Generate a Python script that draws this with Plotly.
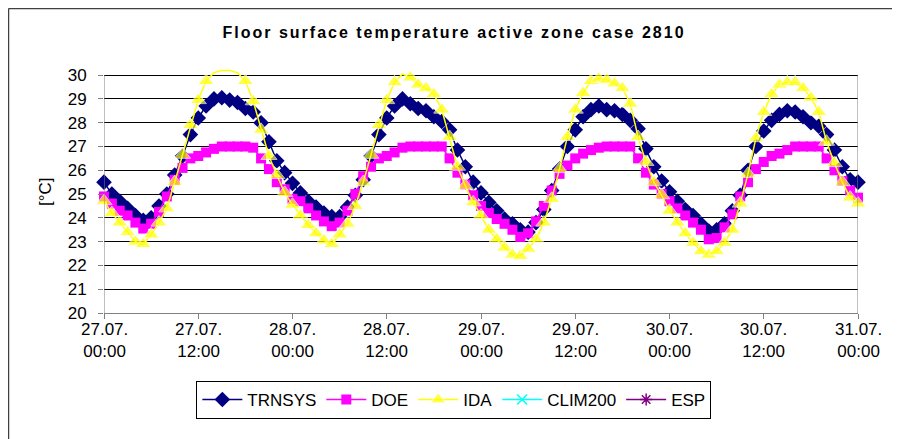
import plotly.graph_objects as go

# ---------------- data (hourly values, 27.07. 00:00 -> 31.07. 00:00) ----------------
hours = list(range(97))

tick_hours = [0, 12, 24, 36, 48, 60, 72, 84, 96]
tick_dates = ["27.07.", "27.07.", "28.07.", "28.07.", "29.07.", "29.07.", "30.07.", "30.07.", "31.07."]
tick_times = ["00:00", "12:00", "00:00", "12:00", "00:00", "12:00", "00:00", "12:00", "00:00"]

trnsys = [25.5, 25.0, 24.7, 24.4, 24.1, 23.9, 24.0, 24.5, 25.0, 25.8, 26.6, 27.5, 28.2,
          28.7, 29.0, 29.05, 28.95, 28.85, 28.6, 28.45, 28.0, 27.2, 26.4, 25.9,
          25.45, 25.05, 24.7, 24.45, 24.2, 24.05, 24.05, 24.45, 24.95, 25.6, 26.6, 27.5,
          28.2, 28.7, 29.0, 28.8, 28.6, 28.5, 28.25, 28.05, 27.7, 26.85, 26.15, 25.5,
          25.05, 24.65, 24.3, 23.95, 23.75, 23.5, 23.4, 23.8, 24.35, 25.15, 26.05, 27.0,
          27.7, 28.25, 28.55, 28.7, 28.55, 28.5, 28.35, 28.1, 27.75, 26.9, 26.15, 25.55,
          25.1, 24.7, 24.35, 24.1, 23.75, 23.45, 23.5, 23.75, 24.3, 24.95, 26.0, 27.0,
          27.65, 28.1, 28.35, 28.5, 28.45, 28.25, 28.0, 27.85, 27.5, 26.85, 26.15, 25.6,
          25.5]

doe = [24.9, 24.6, 24.3, 24.1, 23.8, 23.55, 23.75, 24.25, 24.9, 25.6, 26.1, 26.5, 26.6,
       26.75, 26.9, 27.0, 27.0, 27.0, 27.0, 26.95, 26.5, 26.05, 25.5, 25.2,
       24.8, 24.7, 24.4, 24.1, 23.85, 23.65, 23.8, 24.3, 25.0, 25.75, 26.15, 26.5,
       26.6, 26.75, 26.95, 27.0, 27.0, 27.0, 27.0, 27.0, 26.5, 25.9, 25.4, 24.95,
       24.5, 24.2, 23.95, 23.75, 23.5, 23.2, 23.35, 23.85, 24.5, 25.15, 25.85, 26.2,
       26.5, 26.7, 26.85, 26.95, 27.0, 27.0, 27.0, 27.0, 26.5, 25.9, 25.4, 25.0,
       24.7, 24.4, 24.1, 23.8, 23.5, 23.1, 23.15, 23.6, 24.15, 24.9, 25.5, 26.05,
       26.35, 26.6, 26.7, 26.85, 27.0, 27.0, 27.0, 27.0, 26.5, 26.0, 25.55, 25.15,
       24.85]

ida = [24.7, 24.2, 23.8, 23.4, 23.0, 22.9, 23.3, 23.8, 24.4, 25.5, 26.65, 27.9, 28.95,
       29.75, 30.1, 30.2, 30.2, 30.1, 29.75, 28.9, 27.7, 26.6, 25.8, 25.05,
       24.55, 24.1, 23.7, 23.35, 23.05, 22.9, 23.3, 23.75, 24.5, 25.5, 26.65, 27.9,
       28.95, 29.7, 30.05, 29.9, 29.6, 29.45, 29.2, 28.55, 27.4, 26.15, 25.35, 24.65,
       24.1, 23.5, 23.1, 22.75, 22.45, 22.4, 22.7, 23.1, 23.8, 24.8, 26.05, 27.4,
       28.55, 29.25, 29.75, 29.85, 29.8, 29.65, 29.45, 28.8, 27.4, 26.35, 25.5, 24.95,
       24.3, 23.8, 23.35, 22.95, 22.6, 22.45, 22.6, 22.95, 23.5, 24.6, 25.85, 27.35,
       28.45, 29.2, 29.6, 29.7, 29.7, 29.45, 29.05, 28.45, 27.2, 26.3, 25.5, 24.85,
       24.6]

clim200 = [None]   # no data visible, legend entry only
esp = [None]       # no data visible, legend entry only

y_ticks = list(range(20, 31))
y_max_axis = 30

# ---------------- figure ----------------
FONT = "Liberation Sans, Arial, sans-serif"
fig = go.Figure()

fig.add_trace(go.Scatter(x=hours, y=trnsys, name="TRNSYS", mode="lines+markers",
                         line=dict(color="#000080", width=1.5),
                         marker=dict(symbol="diamond", size=12, color="#000080"),
                         cliponaxis=False))
fig.add_trace(go.Scatter(x=hours, y=doe, name="DOE", mode="lines+markers",
                         line=dict(color="#FF00FF", width=1.5),
                         marker=dict(symbol="square", size=10, color="#FF00FF"),
                         cliponaxis=False))
fig.add_trace(go.Scatter(x=hours, y=ida, name="IDA", mode="lines+markers",
                         line=dict(color="#FFFF00", width=1.5),
                         marker=dict(symbol="triangle-up", color="#FFFF00",
                                     size=[0 if v > y_max_axis else 14 for v in ida]),
                         cliponaxis=False))
fig.add_trace(go.Scatter(x=clim200, y=clim200, name="CLIM200", mode="lines+markers",
                         line=dict(color="#00FFFF", width=1.5),
                         marker=dict(symbol="x-thin-open", size=10, color="#00FFFF",
                                     line=dict(width=1.5, color="#00FFFF"))))
fig.add_trace(go.Scatter(x=esp, y=esp, name="ESP", mode="lines+markers",
                         line=dict(color="#800080", width=1.5),
                         marker=dict(symbol="asterisk-open", size=10, color="#800080",
                                     line=dict(width=1.5, color="#800080"))))

TITLE = "Floor surface temperature active zone case 2810"
fig.update_layout(
    width=900, height=439,
    margin=dict(l=96, r=50, t=60, b=134),
    paper_bgcolor="white", plot_bgcolor="white",
    font=dict(family=FONT, size=17, color="black"),
    title=dict(text='<b><span style="letter-spacing:2px">' + TITLE + '</span></b>',
               x=446 / 900, xanchor="center", y=1 - 24 / 439, yanchor="middle",
               font=dict(size=16, family=FONT, color="black")),
    showlegend=True,
    legend=dict(orientation="h", x=0.464, xanchor="center", y=-0.2776, yanchor="top",
                bordercolor="black", borderwidth=1, bgcolor="white",
                font=dict(size=17, family=FONT), itemwidth=40, traceorder="normal"),
)

fig.update_xaxes(range=[0, 96], tickmode="array", tickvals=tick_hours, showticklabels=False,
                 showgrid=False, zeroline=False, showline=True, linecolor="#808080",
                 linewidth=1, ticks="outside", ticklen=5, tickcolor="#808080")
fig.update_yaxes(range=[20, 30.3], tickmode="array", tickvals=y_ticks,
                 showgrid=True, gridcolor="black", gridwidth=1, zeroline=False,
                 showline=False, ticks="outside", ticklen=5, tickcolor="#808080",
                 ticklabelstandoff=8,
                 tickfont=dict(size=17, family=FONT, color="black"))

# x tick labels (two rows) as annotations at the tick positions
for h, d, t in zip(tick_hours, tick_dates, tick_times):
    fig.add_annotation(x=h, xref="x", y=-0.114, yref="paper", text=d + "<br>" + t,
                       showarrow=False, xanchor="center", yanchor="middle",
                       font=dict(size=17, family=FONT, color="black"))

# plot-area border lines (left axis and right border, 20..30)
fig.add_shape(type="line", xref="x", yref="y", x0=0, x1=0, y0=20, y1=30,
              line=dict(color="#808080", width=1))
fig.add_shape(type="line", xref="x", yref="y", x0=96, x1=96, y0=20, y1=30,
              line=dict(color="#808080", width=1))

# chart-area outer border (left and top edges visible)
fig.add_shape(type="line", xref="paper", yref="paper", x0=-0.12666, x1=-0.12666, y0=-1, y1=1.24286,
              line=dict(color="#404040", width=1.5))
fig.add_shape(type="line", xref="paper", yref="paper", x0=-0.12666, x1=2, y0=1.24286, y1=1.24286,
              line=dict(color="#404040", width=1.5))

fig.add_annotation(text="[°C]", xref="paper", yref="paper", x=-0.0769, y=0.494,
                   textangle=-90, showarrow=False, xanchor="center", yanchor="middle",
                   font=dict(size=17, family=FONT, color="black"))

fig.write_html("out.html")
